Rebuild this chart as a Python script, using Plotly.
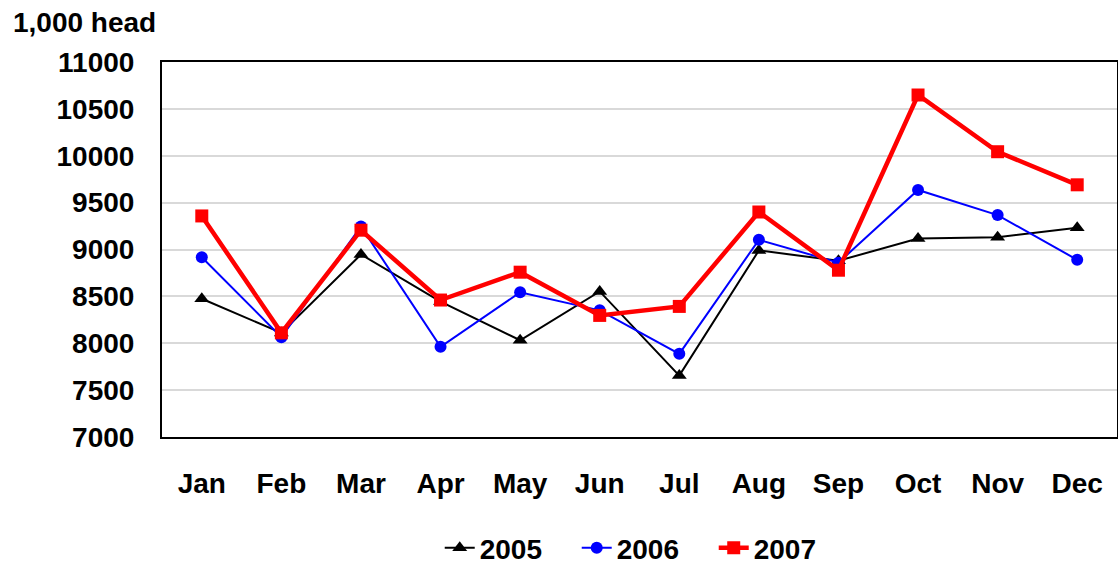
import plotly.graph_objects as go

months = ["Jan", "Feb", "Mar", "Apr", "May", "Jun", "Jul", "Aug", "Sep", "Oct", "Nov", "Dec"]
y2005 = [8475, 8110, 8947, 8445, 8032, 8553, 7655, 8990, 8880, 9117, 9131, 9231]
y2006 = [8918, 8065, 9245, 7962, 8543, 8351, 7887, 9103, 8860, 9635, 9367, 8890]
y2007 = [9358, 8111, 9206, 8461, 8758, 8297, 8393, 9400, 8779, 10648, 10043, 9690]
yticks = [7000, 7500, 8000, 8500, 9000, 9500, 10000, 10500, 11000]
yticklabels = ["7000", "7500", "8000", "8500", "9000", "9500", "10000", "10500", "11000"]

FONT = "Liberation Sans, Arial, sans-serif"

fig = go.Figure()
fig.add_trace(go.Scatter(x=months, y=y2005, name="2005", mode="lines+markers",
                         line=dict(color="black", width=2),
                         marker=dict(symbol="triangle-up", size=13, color="black")))
fig.add_trace(go.Scatter(x=months, y=y2006, name="2006", mode="lines+markers",
                         line=dict(color="#0000ff", width=2),
                         marker=dict(symbol="circle", size=12, color="#0000ff")))
fig.add_trace(go.Scatter(x=months, y=y2007, name="2007", mode="lines+markers",
                         line=dict(color="#ff0000", width=4.5),
                         marker=dict(symbol="square", size=13, color="#ff0000")))

fig.update_layout(
    width=1118, height=564,
    margin=dict(l=162, r=1, t=62, b=127, autoexpand=False),
    paper_bgcolor="white", plot_bgcolor="white",
    font=dict(family=FONT, size=28, color="black"),
    showlegend=True,
    legend=dict(orientation="h", x=0.506, xanchor="center", y=-0.296, yanchor="middle",
                font=dict(family=FONT, size=28, color="black", weight="bold"),
                entrywidth=92, itemsizing="trace", tracegroupgap=0),
    xaxis=dict(type="category", range=[-0.5, 11.5], showgrid=False, showline=True,
               linecolor="black", linewidth=2, mirror=True, ticks="",
               ticklabelstandoff=20, automargin=False,
               tickfont=dict(family=FONT, size=28, color="black", weight="bold")),
    yaxis=dict(range=[7000, 11000], tickvals=yticks, ticktext=yticklabels, showgrid=True,
               gridcolor="#d9d9d9", gridwidth=1.5, showline=True, linecolor="black",
               linewidth=2, mirror=True, ticks="", ticklabelstandoff=20,
               zeroline=False, automargin=False,
               tickfont=dict(family=FONT, size=28, color="black", weight="bold")),
    annotations=[dict(text="<b>1,000 head</b>", xref="paper", yref="paper",
                      x=0, y=1, xanchor="right", yanchor="bottom",
                      xshift=-4, yshift=22, showarrow=False,
                      font=dict(family=FONT, size=28, color="black"))],
)

fig.write_html(
    "out.html",
    config={"displayModeBar": False},
    post_script="document.body.style.margin='0';document.body.style.overflow='hidden';",
)
